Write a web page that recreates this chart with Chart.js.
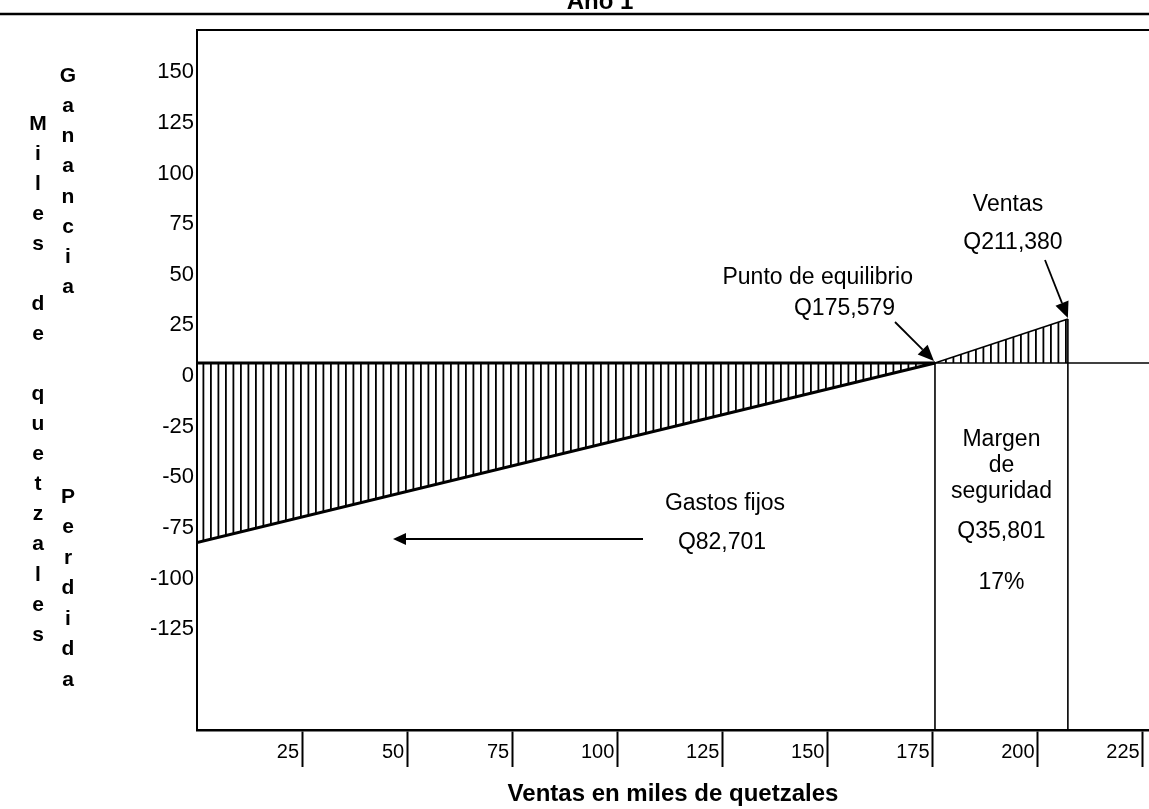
<!doctype html>
<html lang="es">
<head>
<meta charset="utf-8">
<title>Punto de equilibrio - Año 1</title>
<style>
  html, body { margin: 0; padding: 0; background: #fff; }
  #wrap { width: 1149px; height: 809px; position: relative; }
</style>
</head>
<body>
<div id="wrap"><canvas id="chart"></canvas></div>
<script src="https://cdn.jsdelivr.net/npm/chart.js"></script>
<script>
// valores, en miles de quetzales
const xTicks = [25, 50, 75, 100, 125, 150, 175, 200, 225]
const yTicks = [-125, -100, -75, -50, -25, 0, 25, 50, 75, 100, 125, 150]
const puntoEquilibrio = 175.579
const ventasLinea = 207.2      // donde esta dibujada la linea de ventas
const perdidaInicial = -88.7   // perdida con ventas = 0, tal como se dibujo
const gananciaVentas = 21.7    // ganancia a la altura de las ventas
const xMax = 226.5
const yMin = -181.2
const yMax = 164.4

const titulo = 'Año 1'
const ejeVertical = 'Miles de quetzales'
const textoGanancia = 'Ganancia'
const textoPerdida = 'Perdida'
const textoMargen = ['Margen', 'de', 'seguridad', 'Q35,801', '17%']

const FONT = "'Liberation Sans', Arial, sans-serif"
Chart.defaults.font.family = FONT
Chart.defaults.color = '#000'

function rayado() {
  const c = document.createElement('canvas')
  c.width = 15
  c.height = 4
  const g = c.getContext('2d')
  g.fillStyle = '#000'
  g.fillRect(0, 0, 1.8, 4)
  g.fillRect(7.5, 0, 1.8, 4)
  return document.getElementById('chart').getContext('2d').createPattern(c, 'repeat')
}

function flecha(ctx, x1, y1, x2, y2, largo, ancho) {
  const ang = Math.atan2(y2 - y1, x2 - x1)
  const bx = x2 - largo * Math.cos(ang)
  const by = y2 - largo * Math.sin(ang)
  ctx.beginPath()
  ctx.moveTo(x1, y1)
  ctx.lineTo(bx, by)
  ctx.lineWidth = 1.8
  ctx.stroke()
  ctx.beginPath()
  ctx.moveTo(x2, y2)
  ctx.lineTo(bx + ancho * Math.sin(ang), by - ancho * Math.cos(ang))
  ctx.lineTo(bx - ancho * Math.sin(ang), by + ancho * Math.cos(ang))
  ctx.closePath()
  ctx.fill()
}

function columna(ctx, texto, x, y0, paso) {
  texto.split('').forEach((ch, i) => {
    if (ch !== ' ') ctx.fillText(ch, x, y0 + i * paso)
  })
}

const decoracion = {
  id: 'decoracion',
  afterDraw(chart) {
    const { ctx, chartArea, scales } = chart
    const xe = scales.x.getPixelForValue(puntoEquilibrio)
    const xv = scales.x.getPixelForValue(ventasLinea)
    const y0 = scales.y.getPixelForValue(0)
    const yv = scales.y.getPixelForValue(gananciaVentas)
    ctx.save()
    ctx.strokeStyle = '#000'
    ctx.fillStyle = '#000'

    // raya superior y borde de arriba del marco
    ctx.lineWidth = 2.5
    ctx.beginPath()
    ctx.moveTo(0, 14)
    ctx.lineTo(chart.width, 14)
    ctx.stroke()
    ctx.lineWidth = 2
    ctx.beginPath()
    ctx.moveTo(chartArea.left - 1, chartArea.top)
    ctx.lineTo(chart.width, chartArea.top)
    ctx.stroke()

    ctx.textAlign = 'center'
    ctx.textBaseline = 'alphabetic'
    ctx.font = 'bold 24px ' + FONT
    ctx.fillText(titulo, 600, 9)

    // rotulos verticales
    ctx.textBaseline = 'middle'
    ctx.font = 'bold 21px ' + FONT
    columna(ctx, ejeVertical, 38, 124, 30.05)
    columna(ctx, textoGanancia, 68, 76, 30.2)
    columna(ctx, textoPerdida, 68, 497, 30.5)

    // anotaciones
    ctx.font = '23px ' + FONT
    ctx.textAlign = 'right'
    ctx.fillText('Punto de equilibrio', 913, 278)
    ctx.fillText('Q175,579', 895, 309)
    ctx.textAlign = 'center'
    ctx.fillText('Ventas', 1008, 205)
    ctx.fillText('Q211,380', 1013, 243)
    const xm = (xe + xv) / 2
    const ym = [440, 466, 492, 532, 583]
    textoMargen.forEach((t, i) => ctx.fillText(t, xm, ym[i]))
    ctx.fillText('Gastos fijos', 725, 504)
    ctx.fillText('Q82,701', 722, 543)

    flecha(ctx, 895, 322, xe - 1, y0 - 2, 16, 7)
    flecha(ctx, 1045, 260, xv, yv - 1, 16, 7)
    flecha(ctx, 643, 539, 393, 539, 13, 6)
    ctx.restore()
  }
}

const linea = (data, width, extra) => Object.assign({
  data, borderColor: '#000', borderWidth: width, pointRadius: 0, tension: 0, fill: false
}, extra || {})

const patron = rayado()

new Chart(document.getElementById('chart'), {
  type: 'line',
  data: {
    datasets: [
      linea([{ x: 0, y: perdidaInicial }, { x: puntoEquilibrio, y: 0 }], 3,
        { fill: { value: 0 }, backgroundColor: patron }),
      linea([{ x: puntoEquilibrio, y: 0 }, { x: ventasLinea, y: gananciaVentas }], 1.6,
        { fill: { value: 0 }, backgroundColor: patron }),
      linea([{ x: 0, y: 0 }, { x: puntoEquilibrio, y: 0 }], 3),
      linea([{ x: puntoEquilibrio, y: 0 }, { x: xMax, y: 0 }], 1.6),
      linea([{ x: puntoEquilibrio, y: 0 }, { x: puntoEquilibrio, y: yMin }], 1.6),
      linea([{ x: ventasLinea, y: gananciaVentas }, { x: ventasLinea, y: yMin }], 1.6)
    ]
  },
  options: {
    responsive: true,
    maintainAspectRatio: false,
    animation: false,
    events: [],
    layout: { padding: { top: 30, left: 0, right: 0, bottom: 0 } },
    plugins: { legend: { display: false }, tooltip: { enabled: false } },
    scales: {
      x: {
        type: 'linear',
        min: 0,
        max: xMax,
        afterBuildTicks: (s) => { s.ticks = xTicks.map((v) => ({ value: v })) },
        afterFit: (s) => { s.height = 79 },
        grid: { drawOnChartArea: false, drawTicks: true, tickLength: 37, tickWidth: 2, color: '#000' },
        border: { display: true, color: '#000', width: 2.5 },
        ticks: {
          align: 'end', autoSkip: false, maxRotation: 0,
          padding: -27, labelOffset: -3,
          font: { size: 20 }
        },
        title: {
          display: true,
          text: 'Ventas en miles de quetzales',
          font: { size: 24, weight: 'bold' },
          padding: { top: 0, bottom: 0 }
        }
      },
      y: {
        min: yMin,
        max: yMax,
        afterBuildTicks: (s) => { s.ticks = yTicks.map((v) => ({ value: v })) },
        afterFit: (s) => { s.width = 197 },
        grid: { drawOnChartArea: false, drawTicks: false },
        border: { display: true, color: '#000', width: 2 },
        ticks: { padding: 3, labelOffset: 13, font: { size: 22 } }
      }
    }
  },
  plugins: [decoracion]
})
</script>
</body>
</html>
